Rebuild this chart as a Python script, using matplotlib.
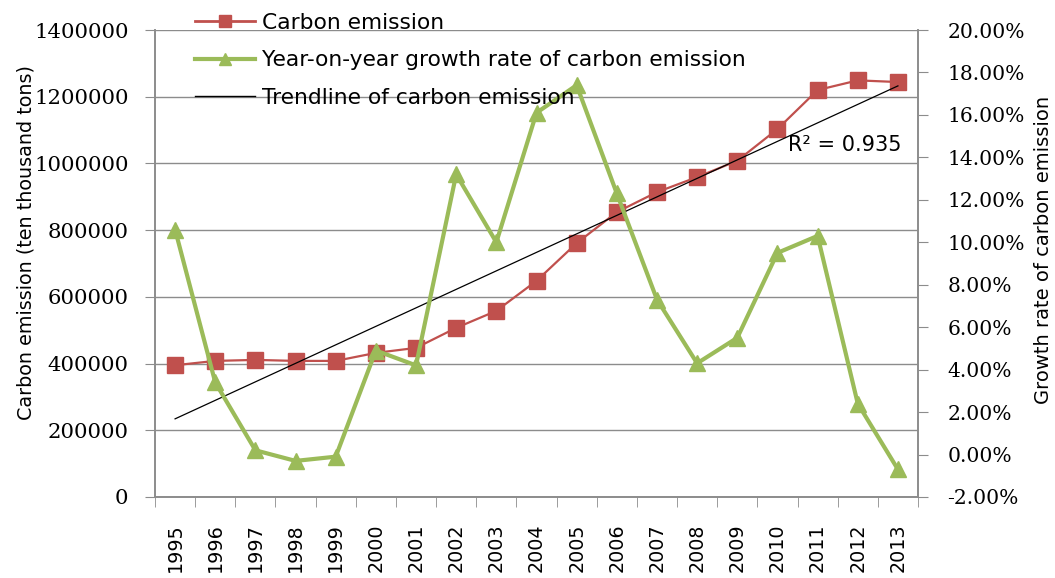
import numpy as np
import matplotlib
matplotlib.use("Agg")
import matplotlib.pyplot as plt
from matplotlib.ticker import FuncFormatter, FixedLocator
from matplotlib.lines import Line2D

years = ["1995", "1996", "1997", "1998", "1999", "2000", "2001", "2002", "2003", "2004",
         "2005", "2006", "2007", "2008", "2009", "2010", "2011", "2012", "2013"]
carbon = [395000, 408000, 411000, 408000, 408000, 432000, 447000, 507000, 558000, 648000,
          761000, 854000, 914000, 959000, 1008000, 1103000, 1220000, 1249000, 1244000]
growth = [0.106, 0.034, 0.002, -0.003, -0.001, 0.049, 0.042, 0.132, 0.100, 0.161,
          0.174, 0.123, 0.073, 0.043, 0.055, 0.095, 0.103, 0.024, -0.007]
left_ticks = [0, 200000, 400000, 600000, 800000, 1000000, 1200000, 1400000]
right_ticks = [-0.02, 0.0, 0.02, 0.04, 0.06, 0.08, 0.10, 0.12, 0.14, 0.16, 0.18, 0.20]
r2_label = "R² = 0.935"

RED = "#C0504D"
GREEN = "#9BBB59"
GRID = "#8C8C8C"
SANS = ["DejaVu Sans"]
SERIF = ["DejaVu Serif"]

fig = plt.figure(figsize=(10.55, 5.78), dpi=100)
ax = fig.add_axes([155/1055, 1-497/578, (918-155)/1055, (497-30)/578])
ax2 = ax.twinx()

x = np.arange(len(years))
coef = np.polyfit(x, carbon, 1)
trend = np.polyval(coef, x)

ax.plot(x, carbon, color=RED, lw=1.6, marker="s", ms=11, zorder=3)
ax.plot(x, trend, color="black", lw=0.9, zorder=4)
ax2.plot(x, growth, color=GREEN, lw=3, marker="^", ms=12, zorder=3)

ax.set_xlim(-0.5, len(years) - 0.5)
ax.set_ylim(0, 1400000)
ax2.set_ylim(-0.02, 0.20)

ax.set_yticks(left_ticks)
ax.set_yticklabels([str(v) for v in left_ticks], fontfamily=SERIF, fontsize=15.3)
ax2.set_yticks(right_ticks)
ax2.yaxis.set_major_formatter(FuncFormatter(lambda v, p: f"{v*100:.2f}%"))
for lab in ax2.get_yticklabels():
    lab.set_fontfamily(SERIF)
    lab.set_fontsize(14.6)

ax.set_xticks(x)
ax.set_xticklabels(years, rotation=90, fontsize=13.8, fontfamily=SANS)
ax.xaxis.set_minor_locator(FixedLocator(np.arange(-0.5, len(years), 1.0)))
ax.tick_params(axis="x", which="major", length=0, pad=19)
ax.tick_params(axis="x", which="minor", length=7, color=GRID, direction="out")
ax.tick_params(axis="y", length=7, color=GRID, direction="out", pad=12)
ax2.tick_params(axis="y", length=7, color=GRID, direction="out", pad=14)

ax.grid(axis="y", color=GRID, lw=1)
ax.set_axisbelow(True)
for a in (ax, ax2):
    a.spines["top"].set_visible(False)
    for s in ("left", "right", "bottom"):
        a.spines[s].set_color(GRID)
        a.spines[s].set_linewidth(1.2)

ax.set_ylabel("Carbon emission (ten thousand tons)", fontfamily=SANS, fontsize=13.8)
ax.yaxis.set_label_coords((26 - 155) / 763, (497 - 242) / 467)
ax.yaxis.label.set_va("center")
ax2.set_ylabel("Growth rate of carbon emission", fontfamily=SANS, fontsize=14)
ax2.yaxis.set_label_coords((1043 - 155) / 763, (497 - 250) / 467)
ax2.yaxis.label.set_va("center")

ax2.text(0.904, 0.754, r2_label, transform=ax2.transAxes, ha="center", va="center",
         fontfamily=SANS, fontsize=15)

handles = [
    Line2D([], [], color=RED, lw=2, marker="s", ms=8),
    Line2D([], [], color=GREEN, lw=3, marker="^", ms=9),
    Line2D([], [], color="black", lw=1),
]
labels = ["Carbon emission", "Year-on-year growth rate of carbon emission", "Trendline of carbon emission"]
leg = ax2.legend(handles, labels, loc="upper left", bbox_to_anchor=(195/1055, 1 - 13/578),
                 bbox_transform=fig.transFigure, frameon=False, handlelength=2.75,
                 handletextpad=0.33, labelspacing=0.8, borderpad=0, borderaxespad=0,
                 prop={"family": SANS, "size": 15.7})
leg.set_zorder(10)

fig.savefig("out.png", dpi=100)
